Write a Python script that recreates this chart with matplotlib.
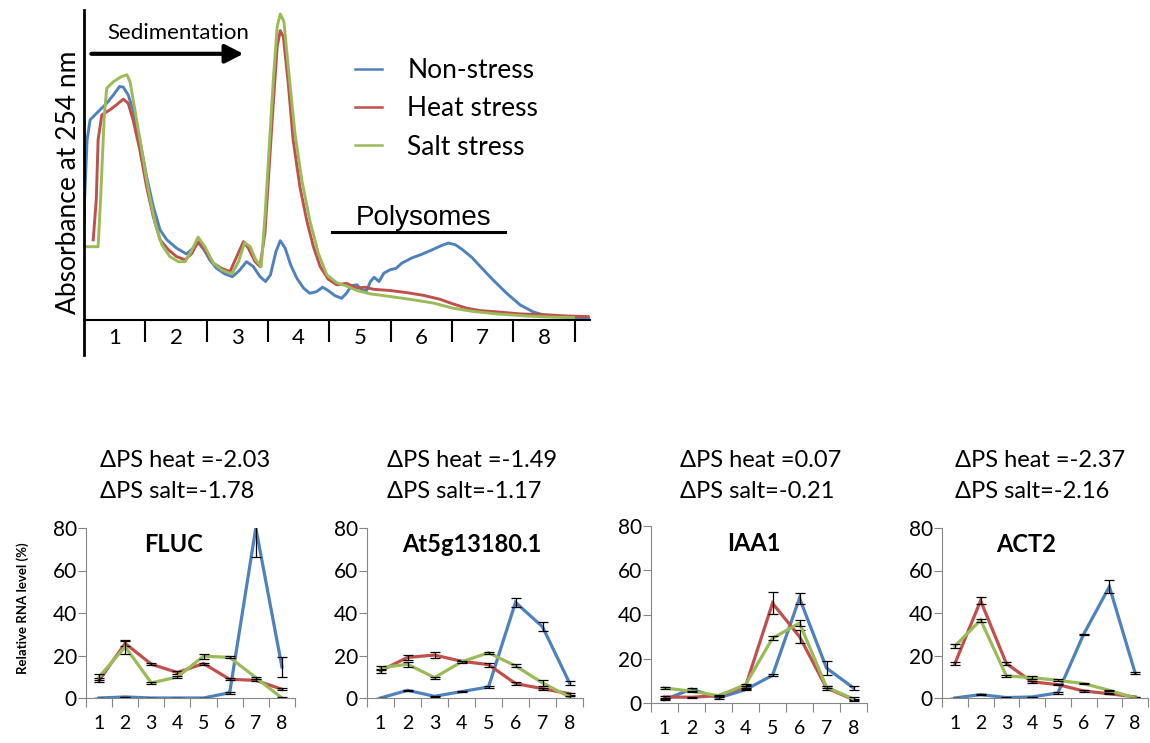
import numpy as np
import matplotlib
matplotlib.use("Agg")
import matplotlib.pyplot as plt
from matplotlib.lines import Line2D

plt.rcParams['font.family'] = ['Lato', 'DejaVu Sans']

BLUE = '#4F81BD'
RED = '#C0504D'
GREEN = '#9BBB59'
AXGRAY = '#868686'

# --- polysome profile (position in fraction units, absorbance in arbitrary units)
ns_x = [0.0, 0.01, 0.05, 0.10, 0.26, 0.37, 0.48, 0.58, 0.64, 0.72, 0.80, 0.91, 1.02, 1.13,
        1.24, 1.35, 1.51, 1.67, 1.78, 1.86, 1.95, 2.05, 2.16, 2.30, 2.42, 2.53, 2.65, 2.76,
        2.87, 2.96, 3.04, 3.13, 3.20, 3.28, 3.37, 3.47, 3.58, 3.68, 3.79, 3.89, 3.98, 4.09,
        4.20, 4.28, 4.36, 4.45, 4.54, 4.61, 4.67, 4.73, 4.81, 4.89, 4.99, 5.09, 5.18, 5.34,
        5.51, 5.67, 5.83, 5.94, 6.05, 6.16, 6.32, 6.48, 6.67, 6.89, 7.11, 7.33, 7.54, 7.87, 8.25]
ns_y = [34, 40, 60, 66.7, 70, 72.2, 75, 77.8, 77.6, 75, 70, 60, 47.8, 37.8,
        30, 26.7, 23.9, 22, 23.9, 25.8, 23.6, 20, 17.2, 15.3, 14.4, 16.4, 19.4, 17.8,
        14.4, 12.8, 15, 22.8, 26.4, 23.9, 18.3, 13.9, 10.6, 8.9, 9.4, 10.9, 9.8, 8.1,
        7.2, 8.9, 11.4, 11.7, 9.8, 9.8, 12.8, 14.2, 12.8, 15.6, 16.7, 17.2, 18.9, 20.6,
        21.9, 23.3, 24.8, 25.6, 25.1, 23.6, 20.9, 17.4, 13.3, 8.9, 5, 2.6, 1.4, 0.9, 0.6]

heat_x = [0.15, 0.20, 0.23, 0.29, 0.42, 0.53, 0.64, 0.72, 0.80, 0.91, 1.02, 1.13, 1.24,
          1.38, 1.51, 1.65, 1.76, 1.86, 1.97, 2.11, 2.24, 2.38, 2.49, 2.60, 2.68, 2.79,
          2.87, 2.95, 3.02, 3.09, 3.15, 3.20, 3.25, 3.33, 3.41, 3.52, 3.63, 3.74, 3.85,
          3.98, 4.12, 4.28, 4.45, 4.58, 4.72, 4.99, 5.26, 5.53, 5.80, 6.02, 6.24, 6.46,
          6.78, 7.11, 7.54, 7.87, 8.22]
heat_y = [26.7, 40, 60, 68.3, 70, 71.7, 73.6, 72.2, 66.7, 56.7, 44.4, 34.4, 26.7,
          23.3, 21.1, 20, 22.2, 26.1, 23.3, 18.9, 17.2, 16.1, 21.1, 26.1, 23.9, 19.4,
          17.8, 28.9, 51.1, 73.3, 91.1, 96.4, 94.4, 78.9, 60, 44.4, 33.3, 24.4, 17.8,
          13.6, 11.7, 12.2, 10.6, 10.9, 10.2, 9.8, 9.1, 8.2, 6.9, 5.3, 3.9, 3.1,
          2.6, 2.0, 1.7, 1.3, 1.1]

salt_x = [0.0, 0.23, 0.27, 0.33, 0.37, 0.48, 0.61, 0.70, 0.75, 0.83, 0.94, 1.05, 1.16,
          1.27, 1.40, 1.54, 1.65, 1.76, 1.86, 1.97, 2.11, 2.24, 2.41, 2.52, 2.62, 2.71,
          2.80, 2.89, 2.95, 3.02, 3.09, 3.15, 3.20, 3.26, 3.33, 3.44, 3.55, 3.68, 3.82,
          3.96, 4.12, 4.28, 4.45, 4.66, 4.99, 5.37, 5.70, 6.02, 6.35, 6.73, 7.22, 7.65, 7.98]
salt_y = [24.4, 24.4, 40, 67.8, 77.2, 79.4, 81.1, 81.7, 79.4, 70, 56.7, 43.3, 32.2,
          25, 21.1, 19.4, 19.4, 23.3, 27.6, 24.4, 18.9, 16.7, 15.3, 19.4, 25.8, 24.4,
          20, 17.8, 34.4, 57.8, 81.1, 97.8, 102, 99.4, 84.4, 62.2, 46.7, 33.3, 22.2,
          15, 12.4, 11.3, 9.8, 8.7, 7.8, 6.7, 5.6, 3.9, 2.8, 2.0, 1.3, 0.9, 0.8]

fraction_labels = ['1', '2', '3', '4', '5', '6', '7', '8']

# --- qRT-PCR per fraction (% of total), with error bars
genes = ['FLUC', 'At5g13180.1', 'IAA1', 'ACT2']
dps_heat = ['-2.03', '-1.49', '0.07', '-2.37']
dps_salt = ['-1.78', '-1.17', '-0.21', '-2.16']

fluc_ns = [0, 0.5, 0, 0, 0, 2.5, 80, 14.6]
fluc_ns_err = [0, 0, 0, 0, 0, 0.5, 13.5, 4.5]
fluc_heat = [8.3, 25.7, 15.9, 12, 16.2, 8.8, 8.3, 4.1]
fluc_heat_err = [1, 1, 0.5, 0.5, 0.5, 0.5, 0.5, 0.5]
fluc_salt = [9.9, 24.1, 7.1, 9.9, 19.7, 19.1, 9.6, 0]
fluc_salt_err = [1.5, 3.2, 0.5, 0.5, 1.2, 0.5, 0.5, 0.5]

at5g_ns = [0, 3.6, 0.8, 3, 5.2, 45, 33.5, 7.1]
at5g_ns_err = [0, 0.3, 0.3, 0.3, 0.3, 2.2, 2.2, 1]
at5g_heat = [12.8, 19.1, 20.2, 17.3, 15.7, 6.8, 4.4, 2]
at5g_heat_err = [1, 1, 1.5, 0.5, 1, 0.5, 0.5, 0.5]
at5g_salt = [14.2, 15.9, 9.6, 17, 21.3, 15.1, 7.1, 0.5]
at5g_salt_err = [1, 1.2, 0.5, 0.5, 0.5, 0.7, 1.5, 0.3]

iaa1_ns = [1.5, 6.3, 2.3, 6, 12.5, 47.4, 15.8, 6.8]
iaa1_ns_err = [0.3, 0.3, 0.3, 0.3, 0.5, 2.5, 3, 1]
iaa1_heat = [2.7, 2.6, 3.3, 7.5, 45.1, 30, 6.8, 1.5]
iaa1_heat_err = [0.3, 0.3, 0.3, 0.5, 5, 3, 0.7, 0.3]
iaa1_salt = [6.8, 5.3, 3.3, 8.3, 29.3, 36.1, 7.2, 1.8]
iaa1_salt_err = [0.5, 0.3, 0.3, 0.5, 1, 1.5, 0.5, 1]

act2_ns = [0, 1.6, 0.2, 0.5, 2.4, 30, 52.4, 11.8]
act2_ns_err = [0, 0.2, 0.2, 0.2, 0.3, 0.3, 3, 0.5]
act2_heat = [16.2, 45.8, 16.2, 7.6, 6.3, 3.3, 2, 0.5]
act2_heat_err = [0.7, 1.5, 0.7, 0.5, 0.3, 0.3, 0.3, 0.2]
act2_salt = [24.4, 36.7, 10.4, 9.6, 8.3, 6.8, 3.6, 0]
act2_salt_err = [1, 0.7, 0.5, 0.7, 0.5, 0.3, 0.3, 0.2]

panels = [
    (fluc_ns, fluc_ns_err, fluc_heat, fluc_heat_err, fluc_salt, fluc_salt_err),
    (at5g_ns, at5g_ns_err, at5g_heat, at5g_heat_err, at5g_salt, at5g_salt_err),
    (iaa1_ns, iaa1_ns_err, iaa1_heat, iaa1_heat_err, iaa1_salt, iaa1_salt_err),
    (act2_ns, act2_ns_err, act2_heat, act2_heat_err, act2_salt, act2_salt_err),
]

W, H = 1150, 743
fig = plt.figure(figsize=(W / 100, H / 100), dpi=100)


def px_axes(x0, x1, ytop, ybot):
    return fig.add_axes([x0 / W, 1 - ybot / H, (x1 - x0) / W, (ybot - ytop) / H])


# ---------------- top: absorbance profile
ax = px_axes(84, 590, 10, 355)
ax.plot(ns_x, ns_y, color=BLUE, lw=2.1, label='Non-stress')
ax.plot(heat_x, heat_y, color=RED, lw=2.1, label='Heat stress')
ax.plot(salt_x, salt_y, color=GREEN, lw=2.1, label='Salt stress')
ax.set_xlim(0, 8.25)
ax.set_ylim(-11.7, 103.3)
for s in ['top', 'right']:
    ax.spines[s].set_visible(False)
ax.spines['left'].set_linewidth(2)
ax.spines['bottom'].set_position(('data', 0))
ax.spines['bottom'].set_linewidth(1.5)
ax.set_yticks([])
ax.set_xticks(np.arange(1, 9) - 0.5)
ax.set_xticklabels(fraction_labels, fontsize=16)
ax.set_xticks(np.arange(1, 9), minor=True)
ax.tick_params(axis='x', which='major', length=0, pad=6)
ax.tick_params(axis='x', which='minor', length=16, width=1.5, direction='out')
ax.set_ylabel('Absorbance at 254 nm', fontsize=19, labelpad=2)

ax.annotate('', xy=(2.6, 88.7), xytext=(0.12, 88.7),
            arrowprops=dict(arrowstyle='-|>,head_length=0.55,head_width=0.28',
                            lw=3, color='black', mutation_scale=20, shrinkA=0, shrinkB=0))
ax.text(1.53, 95.7, 'Sedimentation', fontsize=16, ha='center', va='center')
ax.plot([4.05, 6.87], [29.3, 29.3], color='black', lw=2.2)
ax.text(5.53, 34, 'Polysomes', fontsize=20, ha='center', va='center',
        family=['Liberation Sans', 'DejaVu Sans'])

handles = [Line2D([], [], color=c, lw=1.8) for c in (BLUE, RED, GREEN)]
ax.legend(handles, ['Non-stress', 'Heat stress', 'Salt stress'], loc='upper left',
          bbox_to_anchor=(0.535, 0.86), frameon=False, fontsize=19,
          handlelength=1.05, handletextpad=0.95, labelspacing=0.5,
          borderpad=0, borderaxespad=0)

# ---------------- bottom: RNA distribution per fraction
boxes = [(86, 295, 528, 698), (367, 583, 528, 698), (651, 867, 526, 703), (942, 1148, 528, 698)]
title_pos = [0.42, 0.486, 0.477, 0.41]
text_x = [100, 387, 680, 955]
x = np.arange(1, 9)

for i, (box, data) in enumerate(zip(boxes, panels)):
    ns, ns_e, ht, ht_e, st, st_e = data
    a = px_axes(*box)
    for vals, errs, col in [(ns, ns_e, BLUE), (ht, ht_e, RED), (st, st_e, GREEN)]:
        a.plot(x, vals, color=col, lw=2.3, solid_joinstyle='miter')
        a.errorbar(x, vals, yerr=errs, fmt='none', ecolor='black', elinewidth=0.9,
                   capsize=3.5, capthick=0.9)
    a.set_xlim(0.5, 8.5)
    a.set_ylim(0, 80)
    a.set_yticks([0, 20, 40, 60, 80])
    a.set_xticks(x)
    a.set_xticklabels(fraction_labels)
    a.set_xticks(np.arange(0.5, 9, 1), minor=True)
    for s in ['top', 'right']:
        a.spines[s].set_visible(False)
    for s in ['left', 'bottom']:
        a.spines[s].set_color(AXGRAY)
        a.spines[s].set_linewidth(0.8)
    a.tick_params(axis='x', which='major', length=0, pad=12, labelsize=14)
    a.tick_params(axis='x', which='minor', length=6.5, width=0.8, color=AXGRAY, direction='out')
    a.tick_params(axis='y', length=5.5, width=0.8, color=AXGRAY, direction='out',
                  pad=1, labelsize=15)
    a.text(title_pos[i], 0.9, genes[i], transform=a.transAxes, fontsize=17,
           fontweight='bold', ha='center', va='center')
    fig.text(text_x[i] / W, 1 - 460 / H, 'ΔPS heat =' + dps_heat[i], fontsize=17,
             ha='left', va='center')
    fig.text(text_x[i] / W, 1 - 491 / H, 'ΔPS salt=' + dps_salt[i], fontsize=17,
             ha='left', va='center')

fig.text(23 / W, 1 - 608 / H, 'Relative RNA level (%)', rotation=90, fontsize=9.5,
         fontweight='bold', ha='center', va='center')

fig.savefig('out.png', dpi=100)
